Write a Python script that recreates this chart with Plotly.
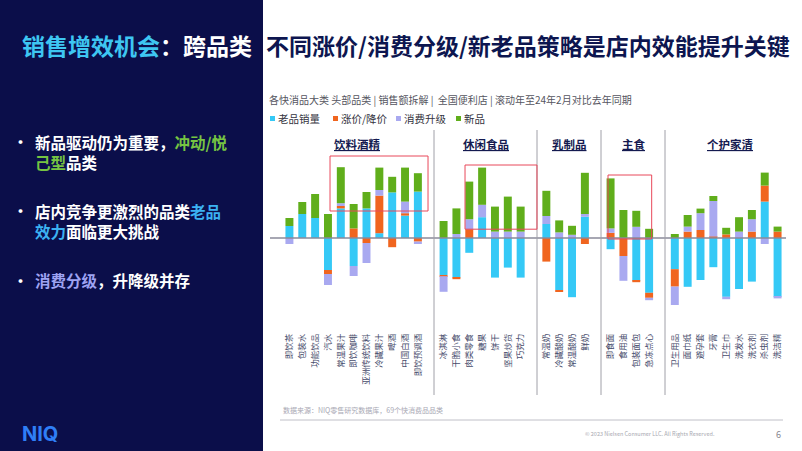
import plotly.graph_objects as go

# ---------------- data ----------------
groups = ["饮料酒精", "休闲食品", "乳制品", "主食", "个护家清"]
group_cats = [
    ["即饮茶", "包装水", "功能饮品", "汽水", "常温果汁", "即饮咖啡", "亚洲传统饮料",
     "冷藏果汁", "啤酒", "中国白酒", "即饮预调酒"],
    ["冰淇淋", "干脆小食", "肉类零食", "糖果", "饼干", "坚果炒货", "巧克力"],
    ["常温奶", "冷藏酸奶", "常温酸奶", "鲜奶"],
    ["即食面", "食用油", "包装面包", "急冻点心"],
    ["卫生用品", "面巾纸", "避孕套", "牙膏", "卫生巾", "洗发水", "洗衣剂", "杀虫剂", "洗洁精"],
]
series_names = ["老品销量", "涨价/降价", "消费升级", "新品"]
series_colors = ["#35c9f6", "#f0651f", "#a9a9f0", "#60ae1b"]

old_sales = [3.0, 6.0, 5.0, -8.0, 7.4, -7.0, 7.4, 1.2, 11.4, 5.6, 11.6,
             -9.25, -9.9, -3.7, 5.2, -9.9, -7.4, -9.9,
             3.5, -13.0, -14.8, 5.3,
             -2.8, 0, -10.7, -13.7,
             -7.8, -12.2, -10.5, -7.3, -14.7, -12.75, -10.9, 9.1, -14.7]
price_change = [0, 0, 0, -1.0, 0.6, 2.4, -1.25, 9.4, -2.3, 0.6, -0.9,
                -0.3, -0.4, 2.2, 0, 0, 0, 0,
                -5.9, -0.5, 0, -1.5,
                1.3, -4.5, -0.35, -1.25,
                -4.35, 1.6, 2.0, 0.35, 0.9, 0, 1.6, 4.0, 1.6]
upgrade = [-1.5, 0, 0, -2.75, 0.7, -2.5, -5.0, 1.4, 0, 2.9, -0.6,
           -3.9, 1.0, 2.5, 3.1, 1.6, 1.6, 1.6,
           2.0, 1.4, 0.8, 0.7,
           1.1, -6.2, 2.8, -0.6,
           -4.6, 1.25, 4.2, 8.9, -0.6, 1.6, 3.1, -1.5, -0.4]
new_products = [2.0, 3.0, 6.0, 6.0, 9.0, 6.1, 4.1, 5.6, 3.9, 8.5, 4.6,
                4.25, 6.4, 9.4, 9.3, 6.25, 8.75, 6.25,
                6.3, 3.0, 2.25, 10.3,
                12.5, 7.0, 4.0, 2.3,
                1.0, 2.9, 1.15, 1.25, 1.65, 3.6, 2.3, 3.25, 1.25]
series_values = [old_sales, price_change, upgrade, new_products]

subtitle = "各快消品大类 头部品类 | 销售额拆解 |  全国便利店 | 滚动年至24年2月对比去年同期"
source_note = "数据来源：NIQ零售研究数据库，69个快消费品品类"

# ---------------- layout helpers ----------------
W, H = 802, 451
L, R, T, B = 283, 18, 150, 126
FONT = "Noto Sans CJK SC"
NAVY = "#0b0e4a"


def px(X):
    return (X - L) / (W - L - R)


def py(Y):
    return (H - B - Y) / (H - T - B)


# categorical axis with blank spacer slots between groups
x_cats, flat_idx, group_start = [], [], []
for gi, cats in enumerate(group_cats):
    group_start.append(len(x_cats))
    for c in cats:
        flat_idx.append(len(x_cats))
        x_cats.append(c)
    if gi < len(group_cats) - 1:
        x_cats.append(" " * (gi + 1))


def spread(vals):
    out = [None] * len(x_cats)
    for i, v in zip(flat_idx, vals):
        out[i] = v if v != 0 else None
    return out


fig = go.Figure()
for name, color, vals in zip(series_names, series_colors, series_values):
    fig.add_trace(go.Bar(x=x_cats, y=spread(vals), name=name, marker_color=color,
                         marker_line_width=0, width=0.62, showlegend=False))

shapes = []
# dark left panel
shapes.append(dict(type="rect", xref="paper", yref="paper", x0=px(-2), x1=px(263),
                   y0=py(H + 2), y1=py(-2), fillcolor=NAVY, line_width=0, layer="below"))
# zero line
shapes.append(dict(type="line", xref="paper", yref="y", x0=px(270), x1=px(786), y0=0, y1=0,
                   line=dict(color="#8a8a9a", width=1.5)))
# group separators
for X in [434, 537, 601, 665]:
    shapes.append(dict(type="line", xref="paper", yref="paper", x0=px(X), x1=px(X),
                       y0=py(395), y1=py(130), line=dict(color="#a0a0a8", width=1)))
# highlight boxes
for x0, x1, y0, y1 in [(3.16, 10.79, 6.75, 20.5), (13.67, 19.27, 2.2, 18.25), (24.8, 28.2, -0.25, 15.75)]:
    shapes.append(dict(type="rect", xref="x", yref="y", x0=x0, x1=x1, y0=y0, y1=y1,
                       line=dict(color="#e8485a", width=1), fillcolor="rgba(0,0,0,0)"))
# footer rule
shapes.append(dict(type="line", xref="paper", yref="paper", x0=px(280), x1=px(783),
                   y0=py(420), y1=py(420), line=dict(color="#c0c0c8", width=1)))

annotations = []


def ann(X, Y, text, size, color, xanchor="left", bold=False, family=FONT, yanchor="middle"):
    annotations.append(dict(xref="paper", yref="paper", x=px(X), y=py(Y), text=(f"<b>{text}</b>" if bold else text),
                            showarrow=False, xanchor=xanchor, yanchor=yanchor, align="left",
                            font=dict(family=family, size=size, color=color)))


# title
ann(20, 45, "<span style='color:#3ec6f2'>销售增效机会</span><span style='color:#ffffff'>：跨品类</span>",
    23, "#ffffff", bold=True)
ann(264, 45, "不同涨价/消费分级/新老品策略是店内效能提升关键", 23, "#0d1650", bold=True)

# bullets
GREEN_T, CYAN_T, LAV_T = "#76c442", "#3cb2f2", "#9ea3f2"
for Y in [142, 210, 280]:
    ann(11, Y, "•", 15, "#ffffff", bold=True)
ann(33, 152, f"新品驱动仍为重要，<span style='color:{GREEN_T}'>冲动/悦</span><br>"
             f"<span style='color:{GREEN_T}'>己型</span>品类", 15.5, "#ffffff", bold=True)
ann(33, 220.5, f"店内竞争更激烈的品类<span style='color:{CYAN_T}'>老品</span><br>"
               f"<span style='color:{CYAN_T}'>效力</span>面临更大挑战", 15.5, "#ffffff", bold=True)
ann(33, 280, f"<span style='color:{LAV_T}'>消费分级</span>，升降级并存", 15.5, "#ffffff", bold=True)

# logo
ann(20, 434, "NIQ", 20, "#2f7ef6", bold=True, family="Inter")

# subtitle
ann(267, 99, subtitle, 10, "#555560")

# legend (custom, compact)
leg_x = [270, 333, 396, 456]
for X, name, color in zip(leg_x, series_names, series_colors):
    shapes.append(dict(type="rect", xref="paper", yref="paper", x0=px(X), x1=px(X + 5),
                       y0=py(121), y1=py(116), fillcolor=color, line_width=0))
    ann(X + 6, 118.5, name, 10.5, "#333340")

# group headers
for g, start, cats in zip(groups, group_start, group_cats):
    center = start + (len(cats) - 1) / 2 + 0.3
    annotations.append(dict(xref="x", yref="paper", x=center, y=py(144), text=f"<b><u>{g}</u></b>",
                            showarrow=False, xanchor="center", yanchor="middle",
                            font=dict(family=FONT, size=11.5, color="#141a50")))

# footer
ann(281, 410, source_note, 7, "#a8a8b4")
ann(717, 434, "© 2023 Nielsen Consumer LLC. All Rights Reserved.", 5.5, "#a8a8b0", xanchor="right")
ann(778, 434, "6", 9, "#888890", xanchor="center")

fig.update_layout(
    width=W, height=H,
    margin=dict(l=L, r=R, t=T, b=B, pad=0),
    barmode="relative",
    paper_bgcolor="#ffffff", plot_bgcolor="rgba(0,0,0,0)",
    shapes=shapes, annotations=annotations,
    font=dict(family=FONT),
    xaxis=dict(type="category", categoryorder="array", categoryarray=x_cats,
               range=[-0.5, len(x_cats) - 0.5], tickangle=-90, ticks="", showline=False,
               showgrid=False, zeroline=False, fixedrange=True, ticklabelstandoff=6,
               tickfont=dict(family=FONT, size=8.5, color="#474c6c")),
    yaxis=dict(visible=False, range=[-21.75, 22], showgrid=False, zeroline=False, fixedrange=True),
)

fig.write_html("out.html", config={"displayModeBar": False},
               post_script="document.body.style.margin='0';document.body.style.overflow='hidden';")
